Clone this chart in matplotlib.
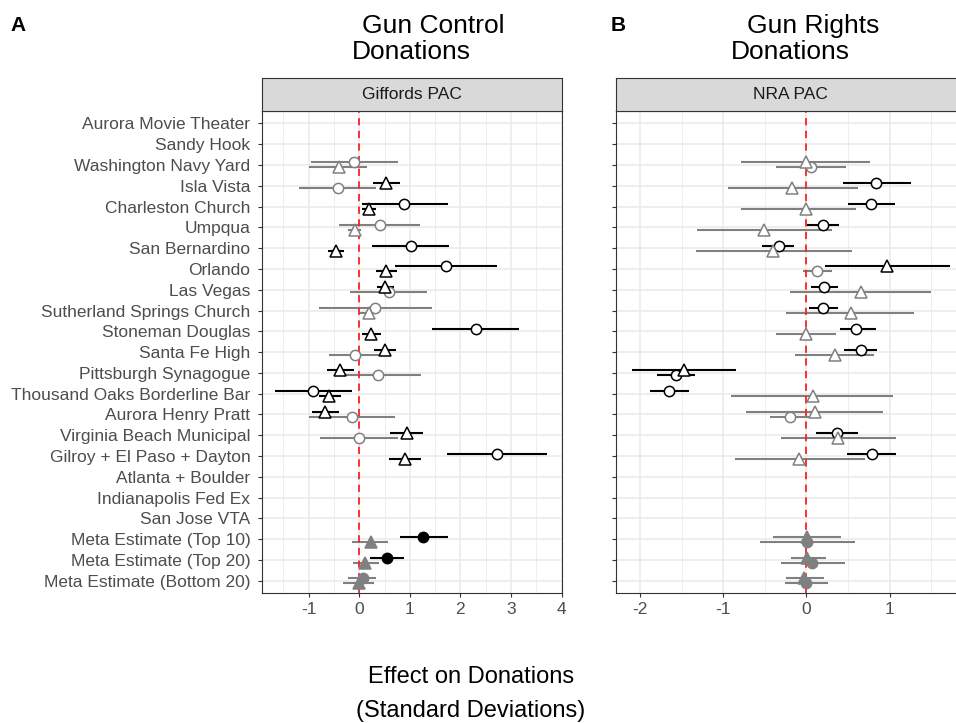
import numpy as np
import matplotlib
matplotlib.use("Agg")
import matplotlib.pyplot as plt
from matplotlib.ticker import MultipleLocator, FixedLocator

plt.rcParams['font.family'] = ['Liberation Sans', 'DejaVu Sans']

nan = np.nan

events = ["Aurora Movie Theater", "Sandy Hook", "Washington Navy Yard", "Isla Vista",
          "Charleston Church", "Umpqua", "San Bernardino", "Orlando", "Las Vegas",
          "Sutherland Springs Church", "Stoneman Douglas", "Santa Fe High",
          "Pittsburgh Synagogue", "Thousand Oaks Borderline Bar", "Aurora Henry Pratt",
          "Virginia Beach Municipal", "Gilroy + El Paso + Dayton", "Atlanta + Boulder",
          "Indianapolis Fed Ex", "San Jose VTA", "Meta Estimate (Top 10)",
          "Meta Estimate (Top 20)", "Meta Estimate (Bottom 20)"]

# ---- Giffords PAC (gun control donations) ----
gc_circ_est = [nan, nan, -0.10, -0.43, 0.89, 0.41, 1.02, 1.71, 0.58, 0.31, 2.31, -0.09,
               0.38, -0.91, -0.15, -0.01, 2.73, nan, nan, nan, 1.27, 0.54, 0.07]
gc_circ_lo = [nan, nan, -0.96, -1.20, 0.05, -0.40, 0.25, 0.70, -0.18, -0.80, 1.43, -0.60,
              -0.48, -1.67, -1.00, -0.78, 1.73, nan, nan, nan, 0.80, 0.21, -0.22]
gc_circ_hi = [nan, nan, 0.76, 0.34, 1.75, 1.21, 1.78, 2.73, 1.33, 1.44, 3.16, 0.41,
              1.22, -0.14, 0.70, 0.77, 3.72, nan, nan, nan, 1.75, 0.89, 0.33]
gc_circ_sig = [0, 0, 0, 0, 1, 0, 1, 1, 0, 0, 1, 0, 0, 1, 0, 0, 1, 0, 0, 0, 1, 1, 0]

gc_tri_est = [nan, nan, -0.41, 0.53, 0.20, -0.09, -0.47, 0.53, 0.51, 0.19, 0.23, 0.50,
              -0.38, -0.59, -0.67, 0.94, 0.90, nan, nan, nan, 0.23, 0.12, -0.01]
gc_tri_lo = [nan, nan, -0.99, 0.28, 0.06, -0.22, -0.62, 0.33, 0.36, 0.02, 0.05, 0.29,
             -0.64, -0.80, -0.93, 0.61, 0.59, nan, nan, nan, -0.14, -0.12, -0.32]
gc_tri_hi = [nan, nan, 0.16, 0.81, 0.34, 0.04, -0.31, 0.74, 0.69, 0.35, 0.43, 0.73,
             -0.10, -0.36, -0.41, 1.27, 1.23, nan, nan, nan, 0.57, 0.40, 0.30]
gc_tri_sig = [0, 0, 0, 1, 1, 0, 1, 1, 1, 0, 1, 1, 1, 1, 1, 1, 1, 0, 0, 0, 0, 0, 0]
gc_top = ["c", "c", "c", "t", "c", "c", "c", "c", "t", "c", "c", "t",
          "t", "c", "t", "t", "c", "c", "c", "c", "c", "c", "c"]

# ---- NRA PAC (gun rights donations) ----
gr_circ_est = [nan, nan, 0.06, 0.84, 0.78, 0.20, -0.33, 0.13, 0.21, 0.20, 0.60, 0.65,
               -1.57, -1.65, -0.20, 0.37, 0.79, nan, nan, nan, 0.01, 0.07, -0.01]
gr_circ_lo = [nan, nan, -0.37, 0.44, 0.50, 0.01, -0.53, -0.04, 0.06, 0.03, 0.40, 0.45,
              -1.79, -1.88, -0.44, 0.11, 0.49, nan, nan, nan, -0.56, -0.31, -0.26]
gr_circ_hi = [nan, nan, 0.48, 1.26, 1.06, 0.39, -0.15, 0.31, 0.38, 0.38, 0.83, 0.85,
              -1.34, -1.41, 0.08, 0.62, 1.08, nan, nan, nan, 0.58, 0.46, 0.26]
gr_circ_sig = [0, 0, 0, 1, 1, 1, 1, 0, 1, 1, 1, 1, 1, 1, 0, 1, 1, 0, 0, 0, 0, 0, 0]

gr_tri_est = [nan, nan, -0.01, -0.17, -0.01, -0.51, -0.40, 0.97, 0.65, 0.53, -0.01, 0.34,
              -1.47, 0.08, 0.10, 0.38, -0.09, nan, nan, nan, 0.01, 0.01, -0.03]
gr_tri_lo = [nan, nan, -0.78, -0.94, -0.78, -1.31, -1.33, 0.22, -0.20, -0.24, -0.37, -0.14,
             -2.10, -0.90, -0.72, -0.30, -0.86, nan, nan, nan, -0.40, -0.18, -0.25]
gr_tri_hi = [nan, nan, 0.76, 0.62, 0.60, 0.31, 0.55, 1.72, 1.49, 1.29, 0.35, 0.81,
             -0.85, 1.04, 0.92, 1.07, 0.70, nan, nan, nan, 0.42, 0.23, 0.21]
gr_tri_sig = [0, 0, 0, 0, 0, 0, 0, 1, 0, 0, 0, 0, 1, 0, 0, 0, 0, 0, 0, 0, 0, 0, 0]
gr_top = ["t", "t", "t", "c", "c", "c", "c", "t", "c", "c", "c", "c",
          "t", "c", "t", "c", "c", "t", "t", "t", "t", "t", "t"]

panels = [
    dict(strip="Giffords PAC", letter="A", title=["Gun Control", "Donations"],
         circ=(gc_circ_est, gc_circ_lo, gc_circ_hi, gc_circ_sig),
         tri=(gc_tri_est, gc_tri_lo, gc_tri_hi, gc_tri_sig), top=gc_top,
         xlim=(-1.93, 4.0), xticks=[-1, 0, 1, 2, 3, 4]),
    dict(strip="NRA PAC", letter="B", title=["Gun Rights", "Donations"],
         circ=(gr_circ_est, gr_circ_lo, gr_circ_hi, gr_circ_sig),
         tri=(gr_tri_est, gr_tri_lo, gr_tri_hi, gr_tri_sig), top=gr_top,
         xlim=(-2.29, 1.91), xticks=[-2, -1, 0, 1]),
]

W, H = 956, 723
fig = plt.figure(figsize=(W / 100, H / 100), dpi=100)

def fx(px):
    return px / W

def fy(py):
    return 1 - py / H

panel_top, panel_bot = 110.9, 593.3
strip_top = 77.7
lefts = [261.7, 615.7]
rights = [561.5, 615.7 + 4.2 * 83.3]

BLACK = "#000000"
GREY = "#808080"
DARK = "#333333"
TXT = "#4D4D4D"
n = len(events)
yidx = np.arange(n)
off = 0.12

for k, p in enumerate(panels):
    ax = fig.add_axes([fx(lefts[k]), fy(panel_bot), fx(rights[k] - lefts[k]),
                       (panel_bot - panel_top) / H])
    ax.set_xlim(*p["xlim"])
    ax.set_ylim(n - 1 + 0.6, -0.6)
    ax.xaxis.set_major_locator(FixedLocator(p["xticks"]))
    ax.xaxis.set_minor_locator(MultipleLocator(0.5))
    ax.set_yticks(yidx)
    if k == 0:
        ax.set_yticklabels(events)
    else:
        ax.set_yticklabels([])
    ax.set_xticklabels([str(t) for t in p["xticks"]])
    ax.set_axisbelow(True)
    ax.grid(True, which="major", axis="both", color="#EBEBEB", lw=1.2)
    ax.grid(True, which="minor", axis="x", color="#EBEBEB", lw=0.6)
    for s in ax.spines.values():
        s.set_color(DARK)
        s.set_linewidth(0.8)
    ax.tick_params(axis="both", which="major", length=2.9, width=0.8, color=DARK,
                   labelsize=12.5, labelcolor=TXT)
    ax.tick_params(axis="y", pad=5.3)
    ax.tick_params(axis="x", pad=3.5)
    ax.tick_params(which="minor", length=0)

    ax.axvline(0, color="#FF2020", lw=1.3, ls=(0, (4, 3)), zorder=2.5)

    for shape, data in (("c", p["circ"]), ("t", p["tri"])):
        est, lo, hi, sig = data
        for i in range(n):
            if np.isnan(est[i]):
                continue
            yy = i - off if p["top"][i] == shape else i + off
            col = BLACK if sig[i] else GREY
            ax.plot([lo[i], hi[i]], [yy, yy], color=col, lw=1.5,
                    solid_capstyle="butt", zorder=2)
            filled = events[i].startswith("Meta")
            face = col if filled else "white"
            if shape == "c":
                ax.plot([est[i]], [yy], marker="o", ms=7.4, mfc=face, mec=col,
                        mew=1.1, ls="none", zorder=3)
            else:
                ax.plot([est[i]], [yy], marker="^", ms=8.8, mfc=face, mec=col,
                        mew=1.1, ls="none", zorder=3)

    # facet strip
    sax = fig.add_axes([fx(lefts[k]), fy(panel_top), fx(rights[k] - lefts[k]),
                        (panel_top - strip_top) / H])
    sax.set_facecolor("#D9D9D9")
    sax.set_xticks([])
    sax.set_yticks([])
    for s in sax.spines.values():
        s.set_color(DARK)
        s.set_linewidth(0.8)
    sax.text(0.5, 0.5, p["strip"], transform=sax.transAxes, ha="center", va="center",
             fontsize=12.5, color="#1A1A1A")

# panel letters and titles
fig.text(fx(10), fy(30.7), "A", fontsize=15, fontweight="bold", va="baseline", ha="left")
fig.text(fx(611), fy(30.7), "B", fontsize=15, fontweight="bold", va="baseline", ha="left")
fig.text(fx(362), fy(33), panels[0]["title"][0], fontsize=19, va="baseline", ha="left")
fig.text(fx(352), fy(59), panels[0]["title"][1], fontsize=19, va="baseline", ha="left")
fig.text(fx(746.7), fy(33), panels[1]["title"][0], fontsize=19, va="baseline", ha="left")
fig.text(fx(730.7), fy(59), panels[1]["title"][1], fontsize=19, va="baseline", ha="left")

fig.text(fx(471), fy(683), "Effect on Donations", fontsize=17, va="baseline", ha="center")
fig.text(fx(471), fy(716.7), "(Standard Deviations)", fontsize=17, va="baseline", ha="center")

fig.savefig("out.png", dpi=100)
